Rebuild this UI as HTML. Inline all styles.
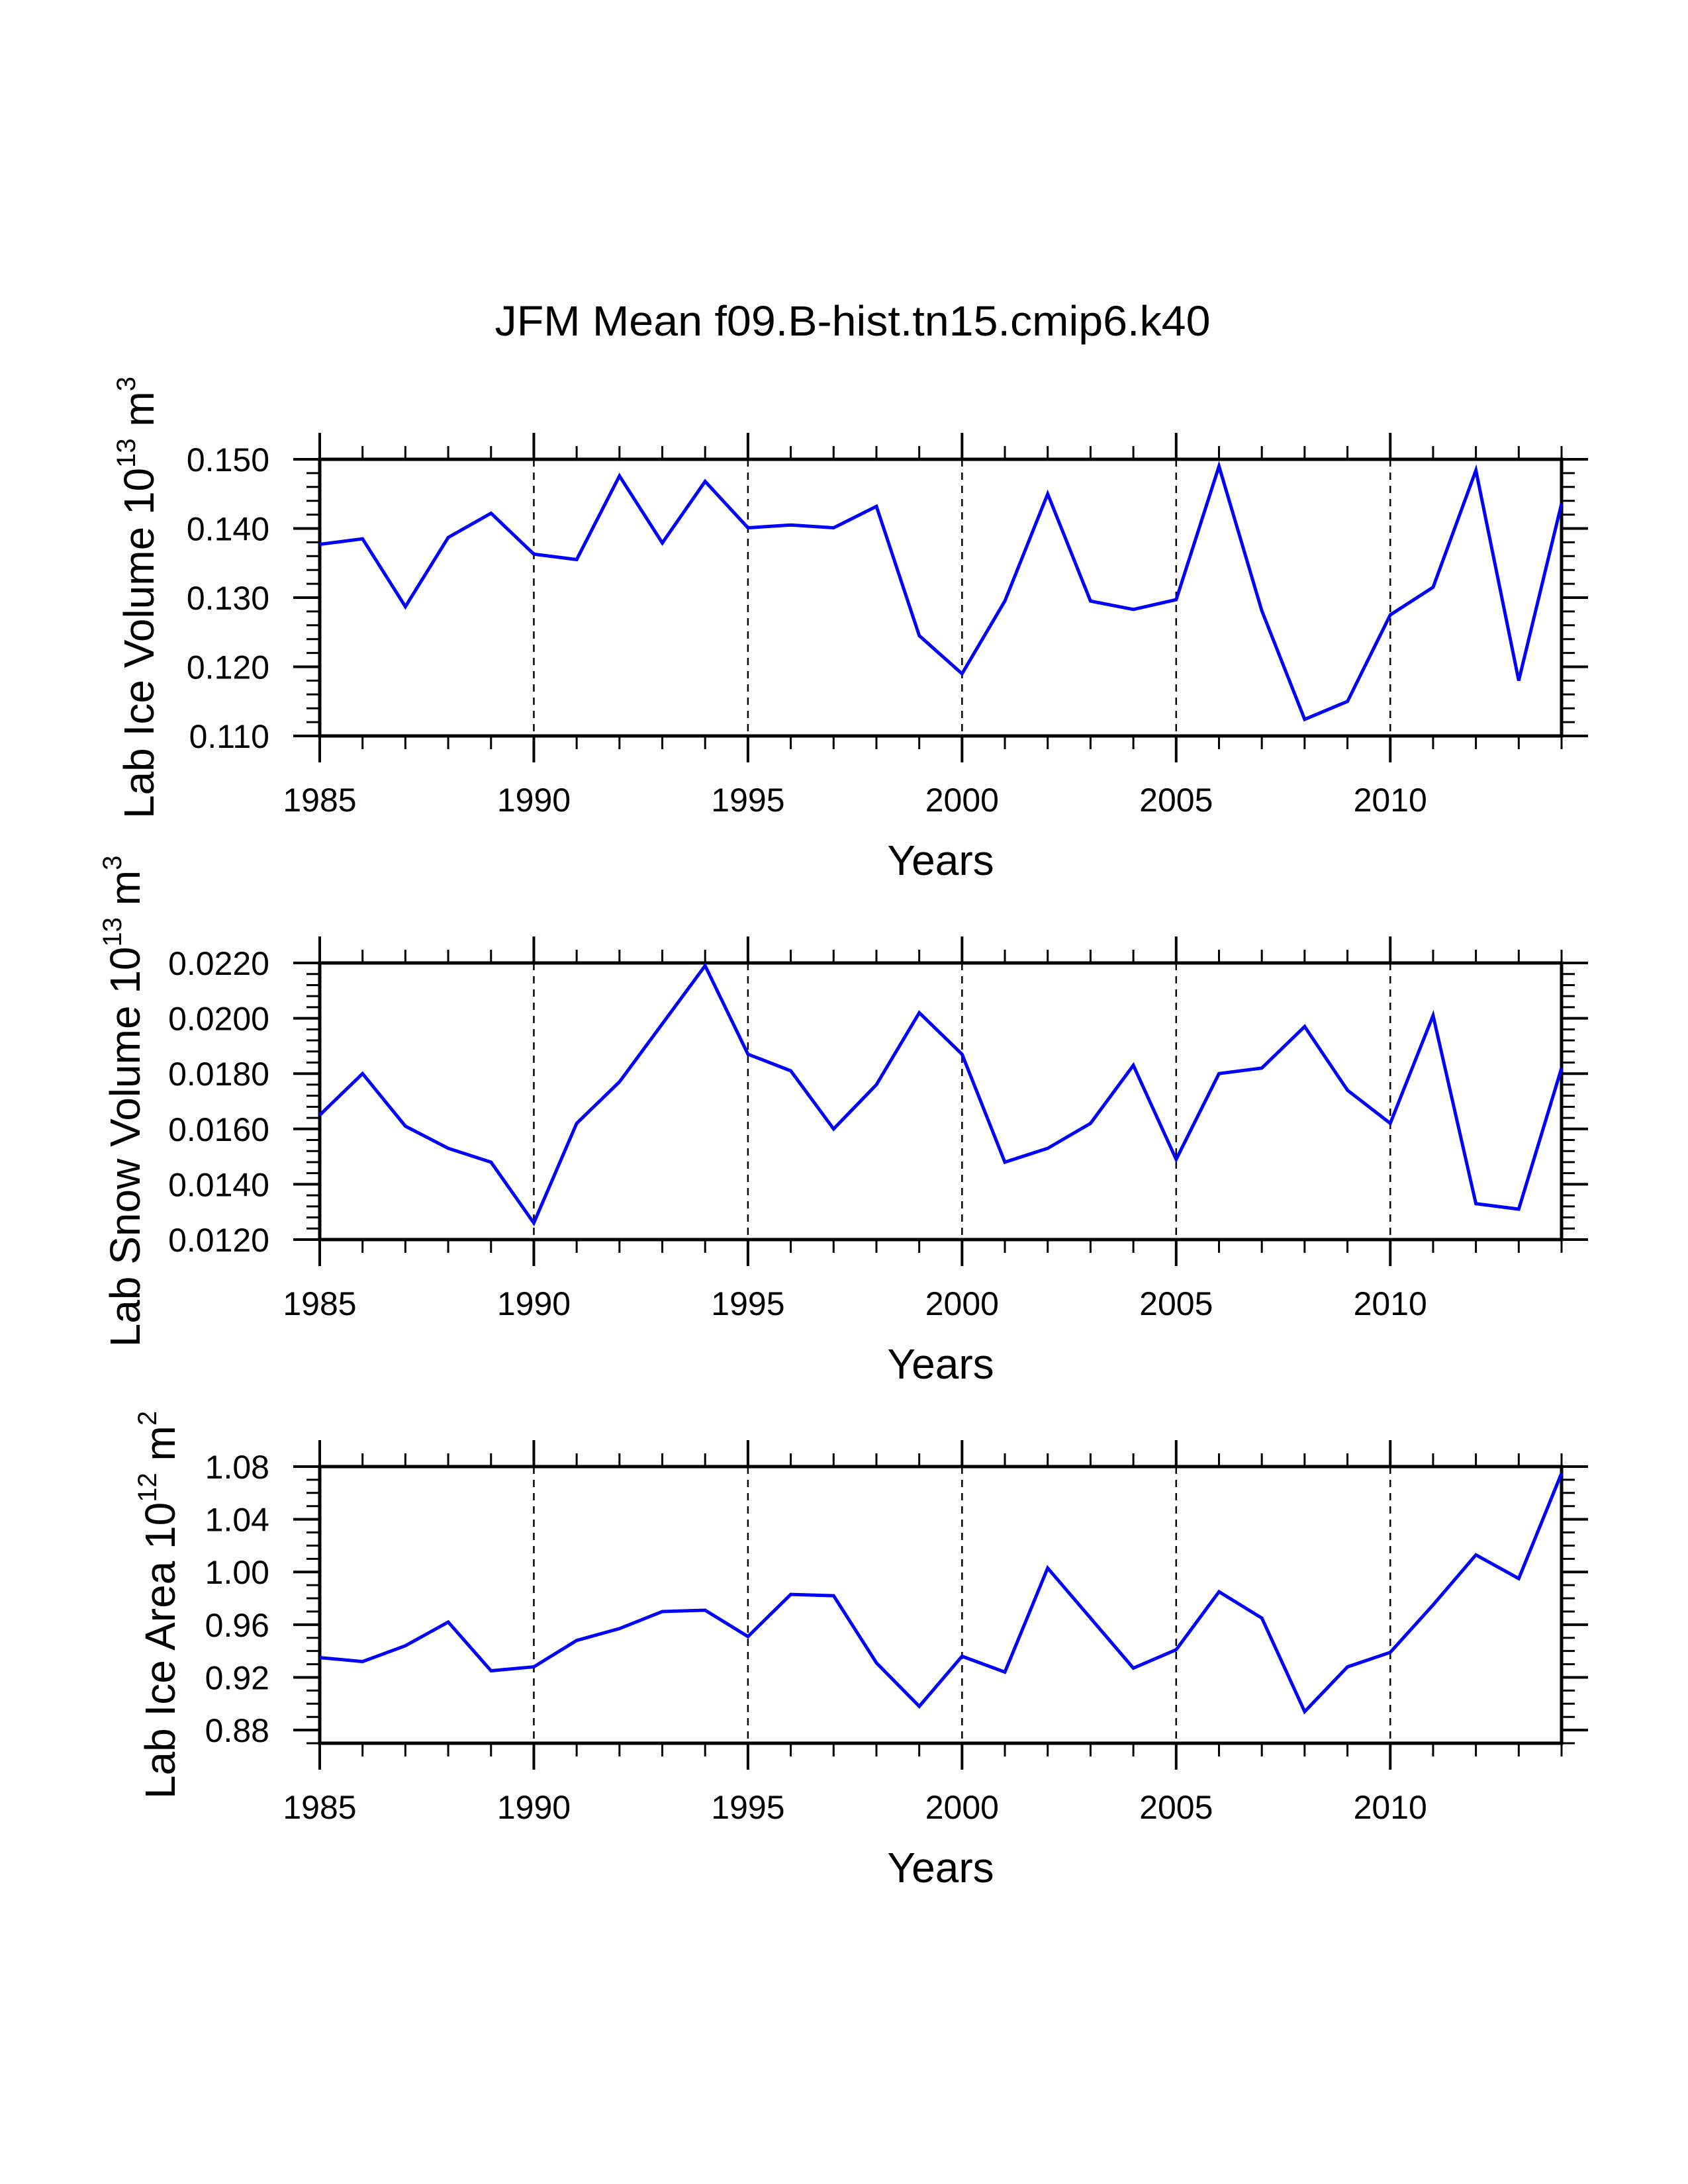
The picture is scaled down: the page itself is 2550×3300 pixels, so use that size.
<!DOCTYPE html>
<html><head><meta charset="utf-8"><style>
html,body{margin:0;padding:0;background:#fff;}
svg{display:block;font-family:"Liberation Sans",Arial,sans-serif;}
</style></head><body>
<svg id="chart" width="2550" height="3300" viewBox="0 0 2550 3300" xmlns="http://www.w3.org/2000/svg">
<rect width="2550" height="3300" fill="#fff"/>
<text x="1288" y="507" font-size="64" text-anchor="middle" textLength="1081" lengthAdjust="spacingAndGlyphs">JFM Mean f09.B-hist.tn15.cmip6.k40</text>
</svg>
<script>
const years = [1985,1986,1987,1988,1989,1990,1991,1992,1993,1994,1995,1996,1997,1998,1999,2000,2001,2002,2003,2004,2005,2006,2007,2008,2009,2010,2011,2012,2013,2014];
const iceVolume = [0.1377,0.1385,0.1287,0.1387,0.1422,0.1363,0.1355,0.1476,0.1379,0.1468,0.1401,0.1405,0.1401,0.1432,0.1245,0.1190,0.1295,0.1450,0.1295,0.1283,0.1297,0.1490,0.1281,0.1124,0.1150,0.1275,0.1315,0.1484,0.1180,0.1436];
const snowVolume = [0.0165,0.0180,0.0161,0.0153,0.0148,0.0126,0.0162,0.0177,0.0198,0.0219,0.0187,0.0181,0.0160,0.0176,0.0202,0.0187,0.0148,0.0153,0.0162,0.0183,0.0149,0.0180,0.0182,0.0197,0.0174,0.0162,0.0201,0.0133,0.0131,0.0182];
const iceArea = [0.935,0.932,0.944,0.962,0.925,0.928,0.948,0.957,0.970,0.971,0.951,0.983,0.982,0.931,0.898,0.936,0.924,1.003,0.965,0.927,0.941,0.985,0.965,0.894,0.928,0.939,0.975,1.013,0.995,1.075];
const xTickLabels = ["1985","1990","1995","2000","2005","2010"];
const iceVolTicks = ["0.110","0.120","0.130","0.140","0.150"];
const snowVolTicks = ["0.0120","0.0140","0.0160","0.0180","0.0200","0.0220"];
const iceAreaTicks = ["0.88","0.92","0.96","1.00","1.04","1.08"];

const NS = "http://www.w3.org/2000/svg";
const svg = document.getElementById('chart');
const L = 483, R = 2359, H = 418;
function el(tag, attrs, parent){const e=document.createElementNS(NS,tag);for(const k in attrs)e.setAttribute(k,attrs[k]);(parent||svg).appendChild(e);return e;}
const xScale = y => L + (y - 1985) * (R - L) / (2014 - 1985);

const panels = [
 {name:'ice-volume', top:694, min:0.110, max:0.150, major:0.01, minor:0.002, data:iceVolume, ticks:iceVolTicks, title:['Lab Ice Volume 10','13',' m','3'], tx:232},
 {name:'snow-volume', top:1455, min:0.0120, max:0.0220, major:0.002, minor:0.0004, data:snowVolume, ticks:snowVolTicks, title:['Lab Snow Volume 10','13',' m','3'], tx:211},
 {name:'ice-area', top:2216, min:0.87, max:1.08, major:0.04, minor:0.01, data:iceArea, ticks:iceAreaTicks, title:['Lab Ice Area 10','12',' m','2'], tx:264, majorStart:0.88}
];

panels.forEach(p => {
  const g = el('g', {});
  
  
  const T = p.top, B = p.top + H;
  const yS = v => B - (v - p.min) * H / (p.max - p.min);
  [1990,1995,2000,2005,2010].forEach(yr => {
    const d = el('line', {x1:xScale(yr), x2:xScale(yr), y1:T, y2:B, stroke:'#000', 'stroke-width':2.5, 'stroke-dasharray':'11,9'}, g);
    
    
  });
  for (let yr = 1985; yr <= 2014; yr++) {
    const len = (yr % 5 === 0) ? 40 : 20;
    const x = xScale(yr);
    el('line', {x1:x, x2:x, y1:T, y2:T-len, stroke:'#000', 'stroke-width':(yr%5===0)?4:3}, g);
    el('line', {x1:x, x2:x, y1:B, y2:B+len, stroke:'#000', 'stroke-width':(yr%5===0)?4:3}, g);
  }
  xTickLabels.forEach(lbl => {
    const t = el('text', {x:xScale(+lbl), y:B+114, 'font-size':50, 'text-anchor':'middle'}, g);
    t.textContent = lbl;
    
    
  });
  const nMin = Math.round((p.max - p.min) / p.minor);
  const ms = p.majorStart !== undefined ? p.majorStart : p.min;
  for (let i = 0; i <= nMin; i++) {
    const v = p.min + i * p.minor;
    const r = (v - ms) / p.major;
    const isMajor = Math.abs(r - Math.round(r)) < 1e-6 && v >= ms - 1e-9;
    const len = isMajor ? 40 : 20;
    const y = yS(v);
    el('line', {x1:L, x2:L-len, y1:y, y2:y, stroke:'#000', 'stroke-width':isMajor?4:3}, g);
    el('line', {x1:R, x2:R+len, y1:y, y2:y, stroke:'#000', 'stroke-width':isMajor?4:3}, g);
  }
  p.ticks.forEach(lbl => {
    const t = el('text', {x:407, y:yS(parseFloat(lbl)) + 18, 'font-size':50, 'text-anchor':'end'}, g);
    t.textContent = lbl;
    
    
  });
  const fr = el('rect', {x:L, y:T, width:R-L, height:H, fill:'none', stroke:'#000', 'stroke-width':5}, g);
  
  
  const pts = years.map((yr,i) => xScale(yr).toFixed(1) + ',' + yS(p.data[i]).toFixed(1)).join(' ');
  const line = el('polyline', {points:pts, fill:'none', stroke:'#0000ff', 'stroke-width':5, 'stroke-linejoin':'miter'}, g);
  
  
  const xt = el('text', {x:(L+R)/2, y:B+210, 'font-size':64, 'text-anchor':'middle'}, g);
  xt.textContent = 'Years';
  
  
  const yc = (T + B) / 2;
  const yt = el('text', {x:0, y:0, 'font-size':64, 'text-anchor':'middle', transform:'translate(' + p.tx + ',' + yc + ') rotate(-90)'}, g);
  
  
  const s1 = el('tspan', {}, yt); s1.textContent = p.title[0];
  const s2 = el('tspan', {dy:-28, 'font-size':40}, yt); s2.textContent = p.title[1];
  const s3 = el('tspan', {dy:28}, yt); s3.textContent = p.title[2];
  const s4 = el('tspan', {dy:-28, 'font-size':40}, yt); s4.textContent = p.title[3];
});
</script>
</body></html>
